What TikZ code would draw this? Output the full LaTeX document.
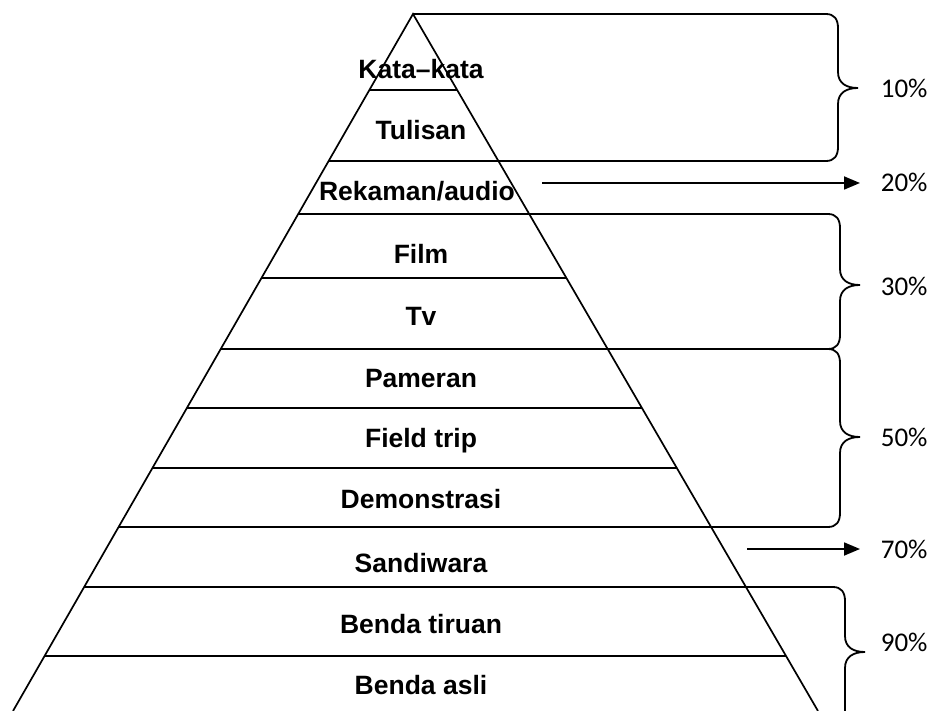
\documentclass[tikz,border=0pt]{standalone}
\usepackage{fontspec}
\setmainfont{Liberation Sans}
\newfontfamily\calfont{Carlito}
\usetikzlibrary{positioning, calc, arrows.meta}

% right brace: x of the upright, top, tip, bottom
\newcommand{\rbrc}[4]{%
	\draw[brc] (#1-12,#2) .. controls (#1-4,#2) and (#1,#2+5) .. (#1,#2+14)
		-- (#1,#3-16) .. controls (#1,#3-5) and (#1+8,#3) .. (#1+20,#3)
		.. controls (#1+8,#3) and (#1,#3+5) .. (#1,#3+16)
		-- (#1,#4-14) .. controls (#1,#4-5) and (#1-4,#4) .. (#1-12,#4);}

\tikzset{
	lbl/.style={font=\bfseries\fontsize{26.5}{30}\selectfont, inner sep=0pt, anchor=base},
	pct/.style={font=\calfont\fontsize{27}{30}\selectfont, inner sep=0pt, anchor=base west},
	brc/.style={line width=1.8pt},
	arr/.style={line width=1.8pt, -{Triangle[length=16pt, width=13pt]}, shorten >=20pt}
}

\begin{document}
\begin{tikzpicture}[x=1pt, y=-1pt, line width=1.7pt]
		\useasboundingbox (0,0) rectangle (931,711);
		\coordinate (apex) at (413,14);
		\coordinate (bl) at (13,711);
		\coordinate (br) at (818,711);
		\draw (bl) -- (apex) -- (br);
		% lines inside the pyramid only
		\foreach \y in {90,278,408,468,656}
			\draw ($(apex)!{(\y-14)/697}!(bl)$) -- ($(apex)!{(\y-14)/697}!(br)$);
		% lines running out to the braces
		\draw (apex) -- (826,14);
		\foreach \y in {161,214,349,527}
			\draw ($(apex)!{(\y-14)/697}!(bl)$) -- (828,\y);
		\draw ($(apex)!{(587-14)/697}!(bl)$) -- (833,587);
		% braces
		\rbrc{838}{14}{88}{161}
		\rbrc{840}{214}{285}{349}
		\rbrc{840}{349}{437}{527}
		\draw[brc] (833,587) .. controls (841,587) and (845,592) .. (845,601)
			-- (845,636) .. controls (845,647) and (853,652) .. (865,652)
			.. controls (853,652) and (845,657) .. (845,668) -- (845,711);
		% layers
		\node[lbl] (kata) at (421,79) {Kata–kata};
		\node[lbl] (tulisan) at (421,140) {Tulisan};
		\node[lbl] (rekaman) at (417,201) {Rekaman/audio};
		\node[lbl] (film) at (421,263) {Film};
		\node[lbl] (tv) at (421,325) {Tv};
		\node[lbl] (pameran) at (421,387) {Pameran};
		\node[lbl] (field) at (421,447) {Field trip};
		\node[lbl] (demo) at (421,508) {Demonstrasi};
		\node[lbl] (sandi) at (421,572) {Sandiwara};
		\node[lbl] (tiruan) at (421,633) {Benda tiruan};
		\node[lbl] (asli) at (421,694) {Benda asli};
		% percentages
		\node[pct] (p10) at (880,98) {10\%};
		\node[pct] (p20) at (880,192) {20\%};
		\node[pct] (p30) at (880,295) {30\%};
		\node[pct] (p50) at (880,446) {50\%};
		\node[pct] (p70) at (880,558) {70\%};
		\node[pct] (p90) at (880,651) {90\%};
		\coordinate (a20) at (542,183);
		\coordinate (a70) at (747,549);
		\draw[arr] (a20) -- (a20 -| p20.west);
		\draw[arr] (a70) -- (a70 -| p70.west);
\end{tikzpicture}
\end{document}
